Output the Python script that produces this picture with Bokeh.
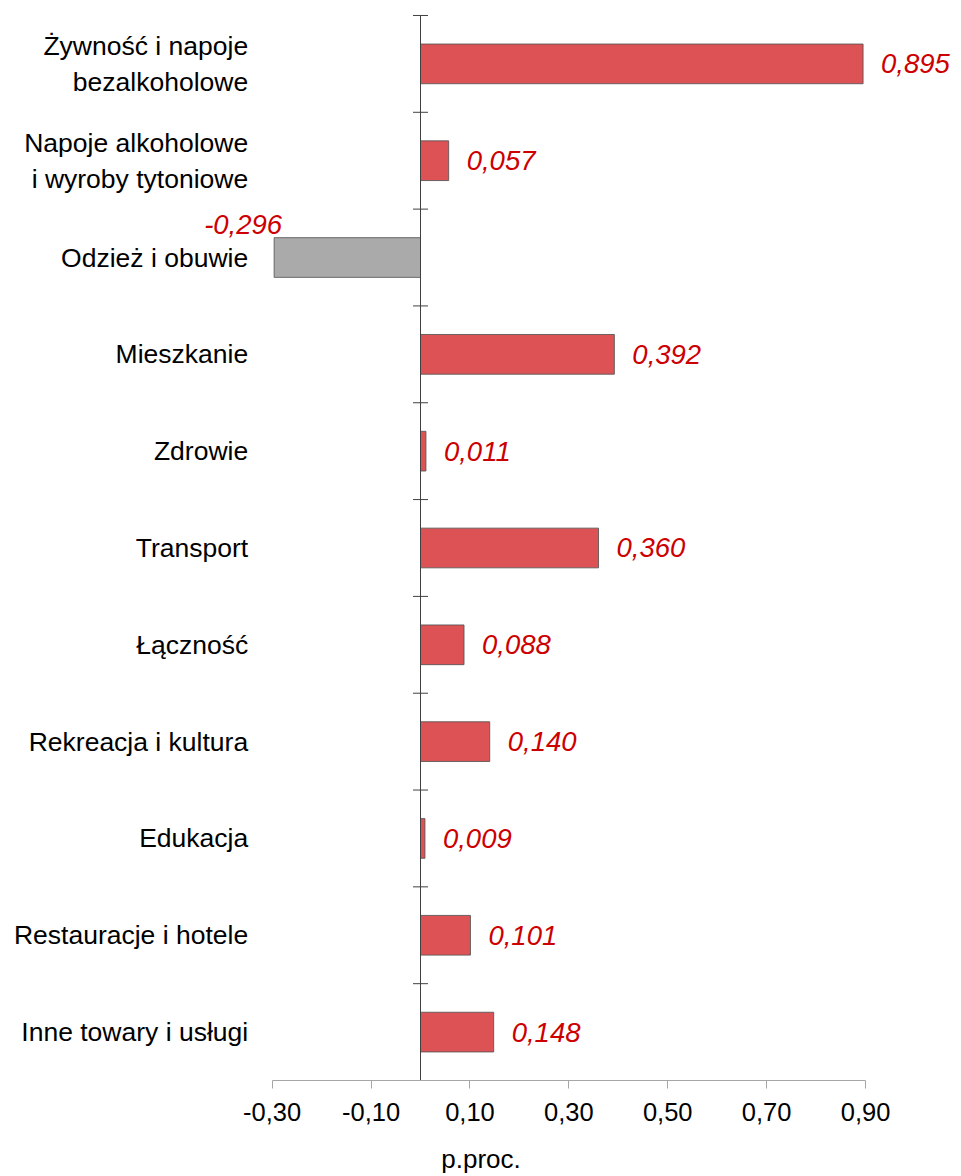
from bokeh.plotting import figure
from bokeh.models import (Range1d, FixedTicker, LinearAxis, ColumnDataSource,
                          LabelSet)
from bokeh.core.properties import value
from bokeh.embed import file_html
from bokeh.resources import INLINE

categories = ["Żywność i napoje\nbezalkoholowe",
              "Napoje alkoholowe\ni wyroby tytoniowe",
              "Odzież i obuwie", "Mieszkanie", "Zdrowie", "Transport",
              "Łączność", "Rekreacja i kultura", "Edukacja",
              "Restauracje i hotele", "Inne towary i usługi"]
values = [0.895, 0.057, -0.296, 0.392, 0.011, 0.360, 0.088, 0.140, 0.009,
          0.101, 0.148]
x_ticks = [-0.30, -0.10, 0.10, 0.30, 0.50, 0.70, 0.90]
x_tick_labels = ["-0,30", "-0,10", "0,10", "0,30", "0,50", "0,70", "0,90"]
axis_title = "p.proc."

FONT = "Liberation Sans"
n = len(categories)
idx = list(range(n))
labels = [f"{v:.3f}".replace(".", ",") for v in values]
colors = ["#DC5255" if v >= 0 else "#AAAAAA" for v in values]

W, H = 961, 1176
PX = 494.5            # pixels per data unit (x)
ZERO_PX = 420         # pixel position of x = 0
p = figure(width=W, height=H, output_backend="svg", toolbar_location=None,
           x_range=Range1d(-ZERO_PX / PX, (W - ZERO_PX) / PX),
           y_range=Range1d(n - 0.5, -0.5 - 15 / 97),
           x_axis_type=None, y_axis_type=None)
p.min_border_left = 0
p.min_border_right = 0
p.min_border_top = 0
p.min_border_bottom = 95
p.outline_line_color = None
p.grid.visible = False
p.background_fill_color = "white"

src = ColumnDataSource(dict(y=idx, v=values, c=colors, t=labels, cat=categories))
p.hbar(y="y", left=0, right="v", height=0.41, fill_color="c",
       line_color="#555555", line_alpha=0.85, line_width=1, source=src)

# vertical zero line with cross ticks at category boundaries
p.segment(x0=0, y0=-0.5, x1=0, y1=n - 0.5, line_color="#404040", line_width=1)
bounds_y = [i - 0.5 for i in range(n + 1)]
p.scatter(x=[0] * len(bounds_y), y=bounds_y, marker="dash", size=15,
          line_color="#404040", line_width=1)

# category labels
p.text(x=x_ticks[0], y="y", text="cat", source=src, x_offset=-24,
       text_align="right", text_baseline="middle",
       text_font=value(FONT), text_font_size="26.5px", text_color="black",
       text_line_height=1.2)

# value axis
xax = LinearAxis(ticker=FixedTicker(ticks=x_ticks), bounds=(x_ticks[0], x_ticks[-1]),
                 major_label_overrides={t: l for t, l in zip(x_ticks, x_tick_labels)})
xax.axis_line_color = "#A6A6A6"
xax.major_tick_line_color = "#A6A6A6"
xax.major_tick_out = 8
xax.major_tick_in = 0
xax.minor_tick_line_color = None
xax.major_label_standoff = 14
xax.major_label_text_font = FONT
xax.major_label_text_font_size = "25.5px"
xax.major_label_text_color = "black"
p.add_layout(xax, "below")

# axis title placed via an invisible secondary axis
tax = LinearAxis(ticker=FixedTicker(ticks=[]), bounds=(0.0, 0.089),
                 axis_label=axis_title)
tax.axis_line_color = None
tax.major_tick_line_color = None
tax.minor_tick_line_color = None
tax.major_tick_out = 0
tax.major_tick_in = 0
tax.major_label_text_font_size = "0px"
tax.axis_label_standoff = 20
tax.axis_label_text_font = FONT
tax.axis_label_text_font_size = "26px"
tax.axis_label_text_font_style = "normal"
tax.axis_label_text_color = "black"
p.add_layout(tax, "below")

pos = ColumnDataSource(dict(y=[i for i in idx if values[i] >= 0],
                            v=[values[i] for i in idx if values[i] >= 0],
                            t=[labels[i] for i in idx if values[i] >= 0]))
neg = ColumnDataSource(dict(y=[i for i in idx if values[i] < 0],
                            v=[values[i] for i in idx if values[i] < 0],
                            t=[labels[i] for i in idx if values[i] < 0]))
common = dict(text_font=value(FONT), text_font_size="27.5px",
              text_font_style="italic", text_color="#CC0000")
p.add_layout(LabelSet(x="v", y="y", text="t", source=pos, x_offset=18,
                      text_align="left", text_baseline="middle", **common))
p.add_layout(LabelSet(x="v", y="y", text="t", source=neg, x_offset=8,
                      y_offset=24, text_align="right",
                      text_baseline="alphabetic", **common))

open("out.html", "w").write(file_html(p, INLINE))
